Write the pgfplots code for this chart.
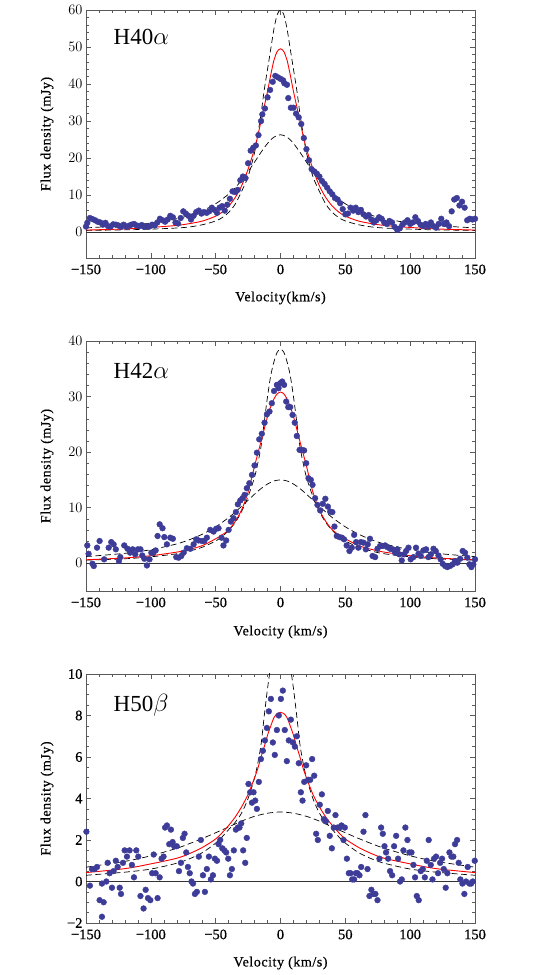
\documentclass[border=0pt]{standalone}
\usepackage{fontspec}
\setmainfont{Liberation Serif}
\newfontfamily\tickfont[FakeBold=0.7]{Liberation Serif}
\newfontfamily\labfont[FakeBold=0.6, LetterSpace=4]{Liberation Serif}
\usepackage{pgfplots}
\pgfplotsset{compat=1.18}
\definecolor{dotblue}{RGB}{61,61,153}

\pgfplotsset{
  panel/.style={
    scale only axis, width=389pt,
    xmin=-150, xmax=150,
    xtick={-150,-100,-50,0,50,100,150},
    xticklabels={−150,−100,−50,0,50,100,150},
    minor x tick num=4,
    tick align=inside,
    major tick length=5pt, minor tick length=3pt,
    axis line style={draw=black!65, line width=0.6pt},
    every tick/.style={black!65, line width=0.5pt},
    tick label style={font=\tickfont\fontsize{14.5}{14.5}\selectfont},
    xticklabel style={yshift=-3pt},
    label style={font=\labfont\fontsize{14}{14}\selectfont},
    ylabel={Flux density (mJy)},
  },
  pts/.style={only marks, mark=*, mark size=2.9pt, color=dotblue},
  fit/.style={red, line width=0.9pt, smooth},
  lim/.style={black, line width=0.7pt, dash pattern=on 6pt off 3.5pt, smooth},
  zero/.style={black!80, line width=0.5pt},
}

\begin{document}
\begin{tikzpicture}
\useasboundingbox (0,0) rectangle (542pt,975pt);

% H40 alpha
\begin{axis}[panel, at={(86pt,717pt)}, anchor=south west, height=248pt,
  ymin=-7, ymax=60, ytick={0,10,20,30,40,50,60}, minor y tick num=4,
  xlabel={Velocity(km/s)},
  xlabel style={at={(axis description cs:0.5,-0.161)}, anchor=center},
  ylabel style={at={(axis description cs:-0.100,0.5)}, anchor=center}]
\addplot[zero] coordinates {(-150,0) (150,0)};
\addplot[pts] coordinates {
(-150,1.5) (-149,2.5) (-147,3.8) (-145,3.5) (-143,3.2) (-141,2.8) (-139,2.6) (-137,2.0)
(-135,2.5) (-133,1.6) (-131,1.5) (-129,2.1) (-127,2.0) (-125,1.8) (-123,1.4) (-121,2.0)
(-119,1.5) (-117,1.7) (-115,2.0) (-113,2.2) (-111,1.8) (-109,1.6) (-107,1.9) (-105,1.4)
(-103,1.6) (-101,1.5) (-99,2.0) (-97,1.8) (-95,2.6) (-93,3.6) (-91,3.2) (-89,2.8)
(-87,3.4) (-85,4.4) (-83,4.0) (-81,2.6) (-79,2.3) (-77,3.8) (-75,5.6) (-73,5.0)
(-71,4.4) (-69,3.4) (-67,4.4) (-65,5.4) (-63,5.8) (-61,5.0) (-59,5.4) (-57,5.2)
(-55,5.6) (-53,6.6) (-51,6.0) (-49,5.2) (-47,6.6) (-45,7.0) (-43,5.8) (-41,7.4)
(-39,9.0) (-37,11.0) (-35,10.8) (-33,11.4) (-31,14.0) (-29,15.0) (-27,14.6) (-25,18.6)
(-23,22.0) (-21,22.8) (-19,23.4) (-17,26.2) (-15,30.0) (-14,31.8) (-12,33.4) (-10,36.4)
(-8,38.4) (-6,40.6) (-4,42.2) (-2,41.8) (0,41.4) (2,41.0) (3,40.2) (5,39.8)
(6,36.2) (8,33.6) (10,33.6) (12,32.0) (14,31.0) (16,29.2) (18,25.4) (20,22.4)
(22,19.4) (24,17.0) (26,16.4) (28,15.8) (30,15.0) (32,13.8) (34,13.0) (36,12.0)
(38,11.0) (40,10.2) (42,9.2) (44,8.8) (46,7.8) (48,6.2) (50,4.8) (52,5.0)
(54,6.6) (56,5.8) (58,6.6) (60,5.4) (62,6.0) (64,4.8) (66,4.2) (68,4.6)
(70,3.4) (72,2.6) (74,3.2) (76,4.0) (78,3.6) (80,2.6) (82,2.2) (84,3.0)
(86,2.6) (88,1.4) (90,0.6) (92,1.0) (94,2.0) (96,2.6) (98,3.2) (100,2.2)
(102,2.6) (104,4.0) (106,3.0) (108,2.0) (110,1.6) (112,2.2) (114,1.6) (116,2.6)
(118,1.6) (120,1.2) (122,2.2) (124,3.6) (126,2.2) (128,2.6) (130,1.6) (132,5.6)
(134,8.8) (136,9.2) (138,7.2) (140,8.2) (142,6.6) (144,3.2) (146,3.6) (148,3.4) (150,3.6)
};
\addplot[lim] coordinates {
(-150,0.45) (-120,0.6) (-100,0.8) (-80,1.1) (-70,1.4) (-60,2.0) (-50,3.0) (-45,3.9)
(-40,5.3) (-35,7.5) (-30,11) (-25,15) (-20,21.5) (-17.5,26.5) (-15,32) (-12.5,38.5)
(-10,44) (-7.5,49.5) (-5,55) (-2.5,58.8) (0,60) (2.5,58.8) (5,55) (7.5,49.5) (10,44)
(12.5,38.5) (15,32) (17.5,26.5) (20,21.5) (25,15) (30,11) (35,7.5) (40,5.3) (45,3.9)
(50,3.0) (60,2.0) (70,1.4) (80,1.1) (100,0.8) (120,0.6) (150,0.45)
};
\addplot[lim] coordinates {
(-150,1.14) (-120,1.75) (-100,2.44) (-80,3.63) (-70,4.55) (-60,5.82) (-50,7.64)
(-40,10.26) (-35,11.97) (-30,14.0) (-25,16.33) (-20,18.91) (-15,21.56) (-10,23.96)
(-5,25.67) (0,26.3) (5,25.67) (10,23.96) (15,21.56) (20,18.91) (25,16.33) (30,14.0)
(35,11.97) (40,10.26) (50,7.64) (60,5.82) (70,4.55) (80,3.63) (100,2.44) (120,1.75) (150,1.14)
};
\addplot[fit] coordinates {
(-150,0.55) (-120,0.85) (-100,1.25) (-80,1.8) (-70,2.3) (-60,3.0) (-50,4.3) (-45,5.4)
(-40,7.0) (-35,9.3) (-30,12.5) (-25,17) (-20,22.5) (-17.5,26) (-15,30) (-12.5,34)
(-10,38) (-7.5,42.5) (-5,46.5) (-2.5,48.8) (0,49.5) (2.5,48.8) (5,46.5) (7.5,42.5) (10,38)
(12.5,34) (15,30) (17.5,26) (20,22.5) (25,17) (30,12.5) (35,9.3) (40,7.0) (45,5.4)
(50,4.3) (60,3.0) (70,2.3) (80,1.8) (100,1.25) (120,0.85) (150,0.55)
};
\node[anchor=west, font=\fontsize{23}{23}\selectfont] at (axis description cs:0.062,0.891) {H40$\alpha$};
\end{axis}

% H42 alpha
\begin{axis}[panel, at={(86pt,384pt)}, anchor=south west, height=250pt,
  ymin=-5, ymax=40, ytick={0,10,20,30,40}, minor y tick num=4,
  xlabel={Velocity (km/s)},
  xlabel style={at={(axis description cs:0.5,-0.164)}, anchor=center},
  ylabel style={at={(axis description cs:-0.100,0.5)}, anchor=center}]
\addplot[zero] coordinates {(-150,0) (150,0)};
\addplot[pts] coordinates {
(-149,3.2) (-148,1.7) (-145,-0.1) (-144,-0.5) (-141.5,2.8) (-139.5,4.0) (-136,0.7)
(-132.5,2.8) (-130.5,3.8) (-128.7,3.4) (-127,2.5) (-124.6,0.4) (-123.5,1.1) (-120.5,3.2)
(-118,2.6) (-116,1.9) (-114,2.5) (-112,1.6) (-110,2.5) (-108,2.5) (-106.6,1.4) (-105,0.8)
(-103,-0.4) (-101,0.7) (-99.6,1.9) (-98,1.9) (-96.3,2.3) (-94.8,4.9) (-93.2,7.0) (-91,6.3)
(-89.6,4.7) (-87.6,3.4) (-85,4.6) (-83,4.4) (-80.4,1.1) (-78.6,1.0) (-76.5,1.3) (-74.7,1.9)
(-72.2,2.7) (-69.6,2.6) (-67,3.4) (-65,4.3) (-63.2,4.1) (-60.6,4.0) (-58.8,4.0) (-56.8,4.6)
(-54.2,6.0) (-51.6,5.7) (-49.6,6.2) (-47.8,6.3) (-45.5,4.6) (-44,3.2) (-41.9,4.1) (-40,6.0)
(-38.3,7.5) (-36.2,8.1) (-34.4,9.2) (-32.9,10.6) (-31,11.3) (-29.3,11.7) (-27.7,12.3)
(-26,13.5) (-24,14.4) (-22,15.9) (-20,17.6) (-18.2,19.9) (-16.4,22.3) (-14.4,23.3)
(-12.3,25.3) (-10.5,26.8) (-8.5,27.3) (-6.7,28.8) (-5,31.0) (-2.8,32.1) (-1.5,31.5)
(-0.2,32.4) (1.3,32.7) (2.8,32.1) (4.4,29.1) (6,28.1) (7.5,28.1) (9.3,26.7) (11,25.3)
(12.6,22.9) (14.7,20.4) (16.4,20.4) (18.2,20.3) (19.8,18.0) (21.6,15.3) (23.4,15.0)
(24.7,14.1) (26.7,11.7) (28.5,10.5) (30.6,9.5) (32.6,10.7) (34.6,11.6) (36.5,10.2)
(38.3,9.3) (40,9.2) (41.6,6.6) (43.4,4.9) (45.5,4.7) (47.3,4.6) (49,4.3) (51,3.2)
(53.2,2.2) (55,2.8) (56.8,5.1) (58.3,3.8) (60,2.8) (62,3.8) (64,3.7) (65.8,2.5)
(67.3,3.4) (69,4.4) (71,1.3) (73,1.1) (74.8,2.6) (76.8,3.1) (78.9,3.1) (80.7,3.2)
(82.5,2.9) (84.5,2.6) (86.6,2.5) (88.4,1.9) (90.2,2.5) (91.7,1.6) (93.5,0.5) (95.3,1.6)
(96.9,2.2) (98.7,2.8) (100.4,0.7) (102.5,1.1) (104.5,2.8) (106.4,1.7) (108.2,1.3)
(110.2,2.3) (112.3,2.5) (114.1,1.1) (116,1.6) (118,2.6) (119.7,2.2) (121.8,1.4)
(123.5,0.7) (125.1,-0.1) (127,-0.5) (128.7,-0.7) (130.8,-0.5) (132.8,-0.2) (134.6,0.4)
(136.4,0.1) (138.5,0.8) (140.5,2.2) (142.3,1.9) (144.1,1.0) (145.7,-0.2) (147.2,-0.7)
(148.7,-0.2) (150,0.7)
};
\addplot[lim] coordinates {
(-150,0.55) (-120,0.8) (-100,1.15) (-80,1.7) (-70,2.2) (-60,2.9) (-50,4.0) (-45,4.8)
(-40,5.9) (-35,7.3) (-30,9.3) (-25,12) (-20,15.5) (-17.5,18) (-15,21) (-12.5,25.5)
(-10,30) (-7.5,33.8) (-5,36.3) (-2.5,38.0) (0,38.5) (2.5,38.0) (5,36.3) (7.5,33.8) (10,30)
(12.5,25.5) (15,21) (17.5,18) (20,15.5) (25,12) (30,9.3) (35,7.3) (40,5.9) (45,4.8)
(50,4.0) (60,2.9) (70,2.2) (80,1.7) (100,1.15) (120,0.8) (150,0.55)
};
\addplot[lim] coordinates {
(-150,1.19) (-120,1.78) (-100,2.43) (-80,3.48) (-70,4.25) (-60,5.25) (-50,6.55)
(-40,8.21) (-35,9.19) (-30,10.24) (-25,11.34) (-20,12.43) (-15,13.44) (-10,14.26)
(-5,14.81) (0,15) (5,14.81) (10,14.26) (15,13.44) (20,12.43) (25,11.34) (30,10.24)
(35,9.19) (40,8.21) (50,6.55) (60,5.25) (70,4.25) (80,3.48) (100,2.43) (120,1.78) (150,1.19)
};
\addplot[fit] coordinates {
(-150,0.62) (-120,0.95) (-100,1.35) (-80,2.0) (-70,2.5) (-60,3.2) (-50,4.4) (-45,5.1)
(-40,6.0) (-35,7.5) (-30,9.6) (-25,12.8) (-20,17.5) (-17.5,19.7) (-15,21.9) (-12.5,24.2)
(-10,26.4) (-7.5,28.2) (-5,29.6) (-2.5,30.5) (0,30.8) (2.5,30.5) (5,29.6) (7.5,28.2) (10,26.4)
(12.5,24.2) (15,21.9) (17.5,19.7) (20,17.5) (25,12.8) (30,9.6) (35,7.5) (40,6.0) (45,5.1)
(50,4.4) (60,3.2) (70,2.5) (80,2.0) (100,1.35) (120,0.95) (150,0.62)
};
\node[anchor=west, font=\fontsize{23}{23}\selectfont] at (axis description cs:0.062,0.881) {H42$\alpha$};
\end{axis}

% H50 beta
\begin{axis}[panel, at={(86pt,52pt)}, anchor=south west, height=249pt,
  ymin=-2, ymax=10, ytick={-2,0,2,4,6,8,10}, yticklabels={−2,0,2,4,6,8,10},
  minor y tick num=3,
  xlabel={Velocity (km/s)},
  xlabel style={at={(axis description cs:0.5,-0.161)}, anchor=center},
  ylabel style={at={(axis description cs:-0.100,0.5)}, anchor=center}]
\addplot[zero] coordinates {(-150,0) (150,0)};
\addplot[pts] coordinates {
(-149.7,2.4) (-147,-0.2) (-145.4,0.6) (-143.3,0.6) (-141.5,0.7) (-139.5,-0.9) (-137.7,-0.1)
(-136.4,-1.0) (-137.7,-1.7) (-134.3,0.0) (-133.3,0.9) (-131.8,0.4) (-130,-0.3) (-128.7,0.5)
(-127,1.0) (-125.6,0.7) (-124,-0.3) (-123,-0.6) (-121.5,0.9) (-120.2,1.5) (-118.4,1.2)
(-116.4,1.5) (-114.6,0.8) (-113,0.2) (-111.2,1.5) (-109.7,1.2) (-108,-0.7) (-105.6,-1.3)
(-104,-0.4) (-102.2,-0.8) (-100.4,-0.9) (-99,0.4) (-97.8,1.3) (-96.3,0.4) (-94.8,-0.8)
(-93.2,0.2) (-91.7,1.1) (-90.2,1.2) (-89,2.6) (-87.6,2.7) (-85.8,1.8) (-84.5,2.5)
(-83.2,1.9) (-82,1.7) (-80,1.7) (-78.3,0.5) (-76.8,0.9) (-75.3,2.1) (-74,2.3) (-72.7,1.4)
(-71.4,0.7) (-70,0.4) (-68.6,0.0) (-67.5,-0.1) (-66,-0.6) (-64.5,-0.5) (-63,1.2) (-61.4,2.0)
(-59.8,0.3) (-58.3,-0.5) (-56.8,0.6) (-55.2,1.2) (-53.7,0.1) (-52.1,0.3) (-50.6,1.1)
(-49,1.0) (-47.8,1.8) (-46.5,2.0) (-44.9,1.6) (-43.3,1.5) (-41.9,1.4) (-40.3,1.1) (-39,0.3)
(-37.5,0.6) (-36,1.5) (-34.4,2.5) (-32.9,2.6) (-31.6,2.6) (-30.3,2.8) (-28.8,1.5)
(-27.2,0.9) (-26,2.1) (-24.7,4.7) (-23.4,4.3) (-22,3.8) (-20.8,4.3) (-19.5,3.9) (-18.2,3.5)
(-16.7,4.8) (-15.1,5.9) (-13.6,6.3) (-12,6.8) (-10.5,7.4) (-9,8.2) (-7.4,8.8) (-5.9,6.7)
(-4.4,6.1) (-2.8,7.3) (-1.3,8.0) (0.3,8.8) (1.8,9.2) (3.3,7.3) (4.9,5.8) (6.4,6.8) (8,7.8)
(9.5,6.7) (11.1,6.5) (12.6,7.0) (14.1,5.7) (15.7,4.3) (17,3.9) (18.3,4.8) (19.8,5.6)
(21.3,4.9) (22.9,4.9) (24.4,5.9) (26,5.1) (27.5,2.3) (28.8,2.0) (30.3,3.7) (31.9,4.2)
(33.4,3.0) (35,2.9) (36.5,3.4) (38,2.2) (39.6,1.6) (41.1,2.6) (42.4,3.2) (44,2.6) (45.5,2.6)
(47,2.7) (48.6,2.0) (49.6,2.6) (51.2,1.1) (52.7,0.4) (54,0.4) (55.3,0.1) (56.8,0.1)
(58.1,0.4) (59.4,0.4) (60.9,0.3) (62.2,0.7) (64,2.4) (65.5,3.2) (67.1,0.6) (68.6,-0.7)
(70.1,-0.4) (71.7,-0.6) (73.2,-0.6) (74.8,-0.9) (76.3,1.1) (77.6,2.6) (78.9,2.3) (80.2,1.7)
(81.4,1.4) (83,1.1) (84.5,0.5) (86.1,0.3) (87.6,1.7) (89.2,2.2) (90.7,1.1) (92.2,0.0)
(93.5,0.1) (94.8,1.5) (96.3,2.6) (97.9,2.0) (99.4,1.4) (101,1.4) (102.5,0.8) (103.8,0.2)
(105.1,-0.7) (106.6,-0.9) (108.2,0.5) (109.7,0.6) (111.3,0.2) (112.8,1.0) (114.3,2.0)
(115.9,0.8) (117.2,0.1) (118.4,1.1) (120,1.2) (121.5,0.4) (123.1,0.9) (124.6,1.1)
(125.9,0.6) (127.4,-0.3) (128.7,0.4) (130.3,1.4) (131.8,1.2) (133.3,1.2) (134.6,1.8)
(136.2,2.0) (137.4,0.9) (138.7,0.1) (140.3,-0.1) (141.8,-0.6) (143.1,0.0) (144.4,0.7)
(145.7,-0.1) (147,-0.1) (148.3,0.0) (149.8,1.0)
};
\addplot[lim] coordinates {
(-150,0.3) (-120,0.45) (-100,0.6) (-80,0.88) (-70,1.1) (-60,1.4) (-50,1.85) (-45,2.15)
(-40,2.5) (-35,2.85) (-30,3.3) (-25,4.0) (-20,5.0) (-17.5,5.7) (-15,6.6) (-12.5,8.0)
(-10,9.3) (-7.5,10.4) (-5,11.4) (-2.5,12.1) (0,12.3) (2.5,12.1) (5,11.4) (7.5,10.4) (10,9.3)
(12.5,8.0) (15,6.6) (17.5,5.7) (20,5.0) (25,4.0) (30,3.3) (35,2.85) (40,2.5) (45,2.15)
(50,1.85) (60,1.4) (70,1.1) (80,0.88) (100,0.6) (120,0.45) (150,0.3)
};
\addplot[lim] coordinates {
(-150,0.69) (-120,0.97) (-100,1.24) (-80,1.60) (-70,1.83) (-60,2.08) (-50,2.35) (-40,2.63)
(-30,2.91) (-20,3.14) (-10,3.29) (0,3.35) (10,3.29) (20,3.14) (30,2.91) (40,2.63)
(50,2.35) (60,2.08) (70,1.83) (80,1.60) (100,1.24) (120,0.97) (150,0.69)
};
\addplot[fit] coordinates {
(-150,0.43) (-120,0.62) (-100,0.85) (-80,1.12) (-70,1.35) (-60,1.65) (-50,2.05) (-45,2.35)
(-40,2.7) (-35,3.1) (-30,3.6) (-25,4.2) (-20,5.0) (-17.5,5.45) (-15,6.0) (-12.5,6.5)
(-10,7.05) (-7.5,7.5) (-5,7.9) (-2.5,8.1) (0,8.15) (2.5,8.1) (5,7.9) (7.5,7.5) (10,7.05)
(12.5,6.5) (15,6.0) (17.5,5.45) (20,5.0) (25,4.2) (30,3.6) (35,3.1) (40,2.7) (45,2.35)
(50,2.05) (60,1.65) (70,1.35) (80,1.12) (100,0.85) (120,0.62) (150,0.43)
};
\node[anchor=west, font=\fontsize{23}{23}\selectfont] at (axis description cs:0.062,0.876) {H50$\beta$};
\end{axis}
\end{tikzpicture}
\end{document}
